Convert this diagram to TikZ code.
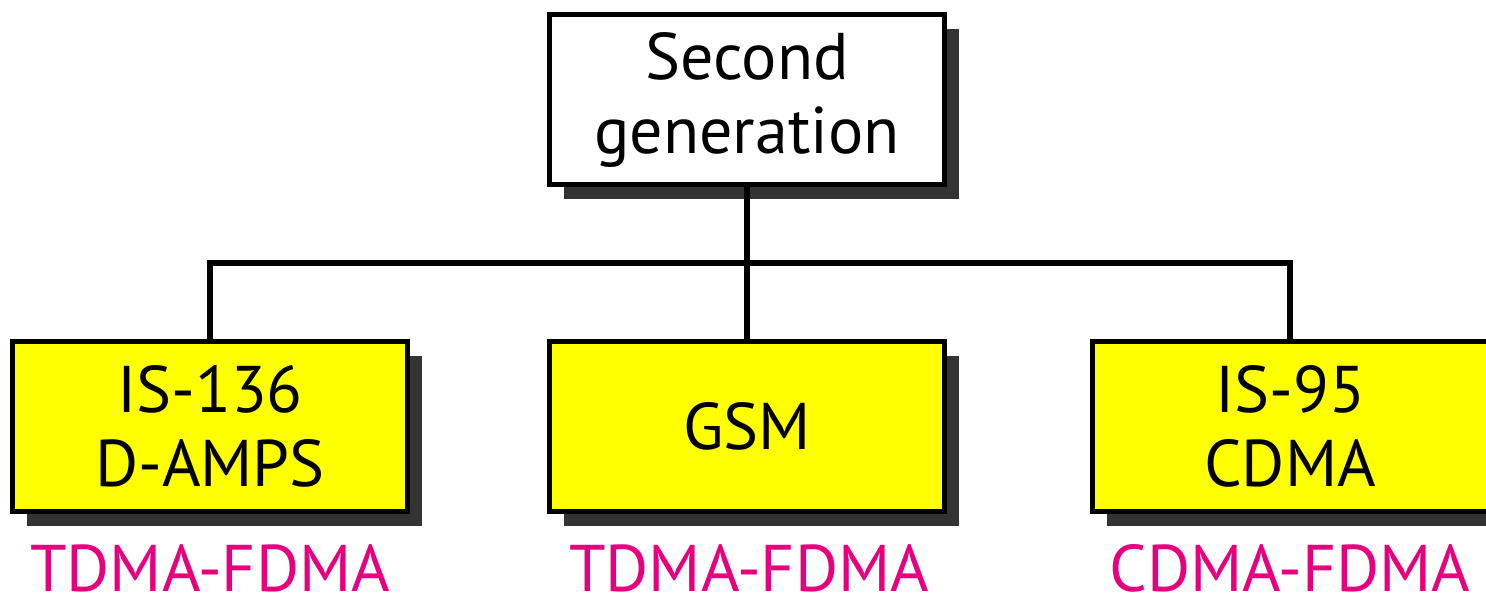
\documentclass[tikz,border=0pt]{standalone}
\usepackage{fontspec}
\setmainfont{PT Sans}
\usetikzlibrary{shadows}
\definecolor{labelpink}{RGB}{230,0,126}
\definecolor{boxyellow}{RGB}{255,255,0}
\begin{document}
\begin{tikzpicture}[x=1pt,y=-1pt,
  box/.style={draw=black, line width=5pt, minimum width=395pt, minimum height=170pt,
    inner sep=0pt, align=center, font=\fontsize{66}{74}\selectfont,
    drop shadow={shadow xshift=14pt, shadow yshift=-14pt, fill=black!80, opacity=1}},
  ybox/.style={box, fill=boxyellow},
  wbox/.style={box, fill=white},
  conn/.style={draw=black, line width=6pt, line join=miter},
  tag/.style={text=labelpink, anchor=base, inner sep=0pt, text depth=0pt,
    font=\fontsize{66}{74}\selectfont}]
\useasboundingbox (0,0) rectangle (1486,597);
\node[wbox] (top) at (747,99.5) {Second\\generation};
\node[ybox] (a) at (210,426.5) {IS-136\\D-AMPS};
\node[ybox] (b) at (747,426.5) {GSM};
\node[ybox, minimum width=415pt] (c) at (1300,426.5) {IS-95\kern20pt\\CDMA\kern20pt};
\coordinate (j) at (747,263);
\coordinate (cj) at (1290,263);
\draw[conn] (top.south) -- (b.north);
\draw[conn] (a.north) |- (j) -- (cj) -- (cj |- c.north);
\node[tag] (ta) at (210,591) {TDMA-FDMA};
\node[tag] (tb) at (749,591) {TDMA-FDMA};
\node[tag] (tc) at (1290,591) {CDMA-FDMA};
\end{tikzpicture}
\end{document}
